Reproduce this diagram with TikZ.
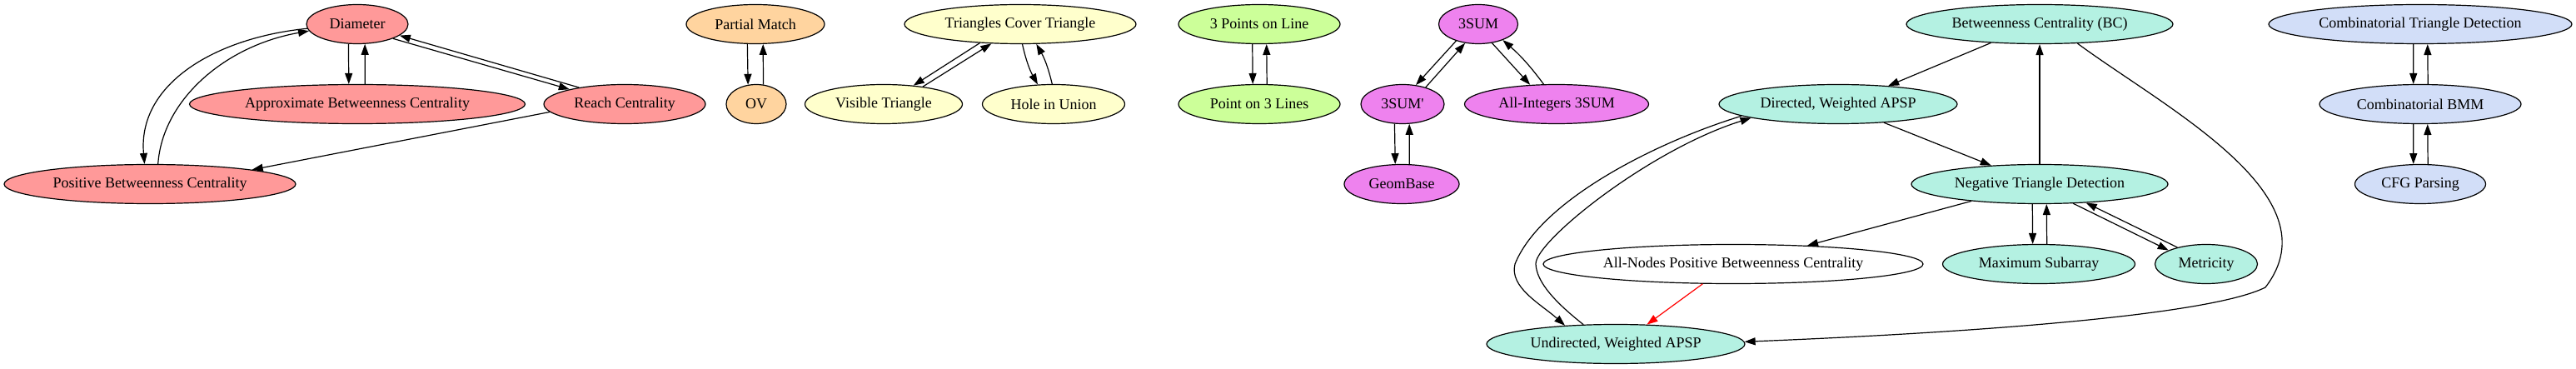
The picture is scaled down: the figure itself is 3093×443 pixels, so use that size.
\documentclass[tikz,border=0pt]{standalone}
\usepackage{fontspec}
\newfontfamily\gvfont{Liberation Serif}
\usetikzlibrary{shapes.geometric,arrows.meta}
\definecolor{cRed}{HTML}{FF9999}
\definecolor{cOrange}{HTML}{FFD49F}
\definecolor{cYellow}{HTML}{FFFFCC}
\definecolor{cGreen}{HTML}{CCFF99}
\definecolor{cViolet}{HTML}{EE82EE}
\definecolor{cTeal}{HTML}{B4F1E2}
\definecolor{cBlue}{HTML}{D2DEF8}
\begin{document}
\begin{tikzpicture}[x=1pt,y=-1pt,
  gn/.style={ellipse, draw=black, line width=1.2pt, minimum height=47pt, inner sep=0pt,
             font=\gvfont\fontsize{18}{20}\selectfont},
  edge/.style={draw=black, line width=1.2pt, -{Triangle[length=13pt,width=9pt]}},
  redge/.style={draw=red, line width=1.2pt, -{Triangle[length=13pt,width=9pt]}}]
\useasboundingbox (0,0) rectangle (3093,443);
% nodes
\node[gn, fill=cRed, minimum width=122pt] (diam) at (429,29) {Diameter};
\node[gn, fill=cRed, minimum width=403pt] (abc) at (429,125) {Approximate Betweenness Centrality};
\node[gn, fill=cRed, minimum width=194pt] (reach) at (750,125) {Reach Centrality};
\node[gn, fill=cRed, minimum width=350pt] (pbc) at (180,221) {Positive Betweenness Centrality};
\node[gn, fill=cOrange, minimum width=166pt] (pm) at (907,29) {Partial Match};
\node[gn, fill=cOrange, minimum width=72pt] (ov) at (908,125) {OV};
\node[gn, fill=cYellow, minimum width=278pt] (tct) at (1225,29) {Triangles Cover Triangle};
\node[gn, fill=cYellow, minimum width=189pt] (vt) at (1061,125) {Visible Triangle};
\node[gn, fill=cYellow, minimum width=171pt] (hu) at (1265,125) {Hole in Union};
\node[gn, fill=cGreen, minimum width=194pt] (p3l) at (1512,29) {3 Points on Line};
\node[gn, fill=cGreen, minimum width=194pt] (pt3) at (1512,125) {Point on 3 Lines};
\node[gn, fill=cViolet, minimum width=95pt] (s3) at (1775,29) {3SUM};
\node[gn, fill=cViolet, minimum width=100pt] (s3p) at (1684,125) {3SUM'};
\node[gn, fill=cViolet, minimum width=221pt] (ai) at (1869,125) {All-Integers 3SUM};
\node[gn, fill=cViolet, minimum width=138pt] (gb) at (1683,221) {GeomBase};
\node[gn, fill=cTeal, minimum width=320pt] (bc) at (2449,29) {Betweenness Centrality (BC)};
\node[gn, fill=cTeal, minimum width=286pt] (da) at (2207,125) {Directed, Weighted APSP};
\node[gn, fill=cTeal, minimum width=308pt] (ntd) at (2449,221) {Negative Triangle Detection};
\node[gn, fill=white, minimum width=456pt] (an) at (2081,317) {All-Nodes Positive Betweenness Centrality};
\node[gn, fill=cTeal, minimum width=231pt] (ms) at (2448,317) {Maximum Subarray};
\node[gn, fill=cTeal, minimum width=123pt] (met) at (2649,317) {Metricity};
\node[gn, fill=cTeal, minimum width=310pt] (ua) at (1940,413) {Undirected, Weighted APSP};
\node[gn, fill=cBlue, minimum width=364pt] (ctd) at (2906,29) {Combinatorial Triangle Detection};
\node[gn, fill=cBlue, minimum width=242pt] (bmm) at (2906,125) {Combinatorial BMM};
\node[gn, fill=cBlue, minimum width=157pt] (cfg) at (2906,221) {CFG Parsing};
% helper coordinates for bends
\coordinate (k1) at (2720,345);
\coordinate (k2) at (1819,317);
\coordinate (k3) at (1844,317);
% edges
\draw[edge] (diam.246.7) -- (abc.113.1);
\draw[edge] (abc.69) -- (diam.291.2);
\draw[edge] (diam.338.7) -- (reach.165);
\draw[edge] (reach.160.3) -- (diam.345.5);
\draw[edge] (diam.185.7) .. controls (260,45) and (165,100) .. (pbc.105);
\draw[edge] (pbc.68) .. controls (195,120) and (270,55) .. (diam.188.7);
\draw[edge] (reach.186.6) -- (pbc.8);
\draw[edge] (pm.248.9) -- (ov.113.9);
\draw[edge] (ov.70.7) -- (pm.291.1);
\draw[edge] (tct.205) -- (vt.32.9);
\draw[edge] (vt.24.7) -- (tct.214.5);
\draw[edge] (tct.276.3) to[bend right=8] (hu.129);
\draw[edge] (hu.94) to[bend right=8] (tct.309);
\draw[edge] (p3l.251.1) -- (pt3.108.9);
\draw[edge] (pt3.69.1) -- (p3l.290.9);
\draw[edge] (s3.217.9) -- (s3p.55.2);
\draw[edge] (s3p.36.3) -- (s3.235.4);
\draw[edge] (s3.306.5) -- (ai.144.7);
\draw[edge] (ai.123.5) to[bend right=6] (s3.327.3);
\draw[edge] (s3p.248.7) -- (gb.108.9);
\draw[edge] (gb.69) -- (s3p.289);
\draw[edge] (bc.201.3) -- (da.20);
\draw[edge] (da.338.5) -- (ntd.159.4);
\draw[edge] (ntd.north) -- (bc.south);
\draw[edge] (bc.333.8) .. controls (2600,130) and (2805,235) .. (k1)
            .. controls (2650,380) and (2350,400) .. (ua.1.9);
\draw[edge] (ntd.194.4) -- (an.14.1);
\draw[redge] (an.213.8) -- (ua.32);
\draw[edge] (ntd.250.3) -- (ms.107.5);
\draw[edge] (ms.68.4) -- (ntd.289.5);
\draw[edge] (ntd.330.9) -- (met.160.8);
\draw[edge] (met.150.4) -- (ntd.338.6);
\draw[edge] (da.187.8) .. controls (1990,170) and (1850,240) .. (k2)
            .. controls (1812,345) and (1850,365) .. (ua.160.3);
\draw[edge] (ua.149.8) .. controls (1870,365) and (1845,340) .. (k3)
            .. controls (1843,290) and (1980,180) .. (da.189.6);
\draw[edge] (ctd.251) -- (bmm.109);
\draw[edge] (bmm.69.9) -- (ctd.290.1);
\draw[edge] (bmm.251) -- (cfg.109.1);
\draw[edge] (cfg.69.9) -- (bmm.290.1);
\end{tikzpicture}
\end{document}
